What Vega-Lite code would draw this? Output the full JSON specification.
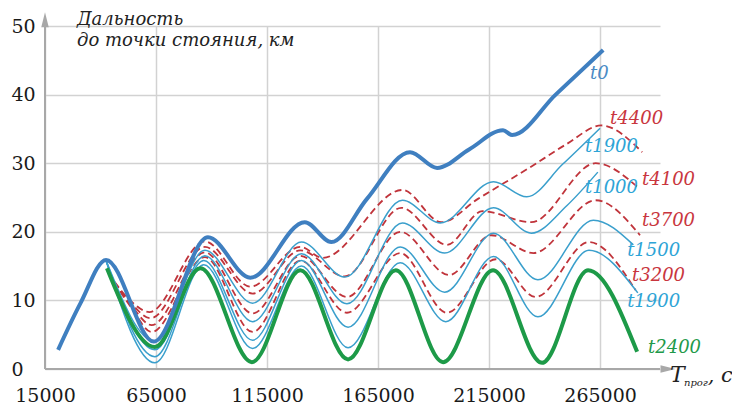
{
  "$schema": "https://vega.github.io/schema/vega-lite/v6.json",
  "width": 615,
  "height": 343,
  "autosize": {"type": "none"},
  "padding": {"left": 45, "top": 26, "right": 72, "bottom": 39},
  "background": "white",
  "config": {"view": {"stroke": null}, "font": "DejaVu Serif"},
  "datasets": {
    "t0": [
      {"x": 20900, "y": 2.8}, {"x": 31000, "y": 9.6}, {"x": 42500, "y": 15.9}, {"x": 64000, "y": 4.0},
      {"x": 88400, "y": 19.2}, {"x": 107500, "y": 13.3}, {"x": 132000, "y": 21.4}, {"x": 144000, "y": 18.5},
      {"x": 160000, "y": 24.8}, {"x": 179400, "y": 31.6}, {"x": 191600, "y": 29.3}, {"x": 206000, "y": 32.0},
      {"x": 221300, "y": 34.8}, {"x": 225400, "y": 34.1}, {"x": 245000, "y": 40.0}, {"x": 266400, "y": 46.5}
    ],
    "green": [
      {"x": 42900, "y": 14.7}, {"x": 64500, "y": 3.2}, {"x": 85000, "y": 14.7}, {"x": 108200, "y": 1.0},
      {"x": 130000, "y": 14.4}, {"x": 151500, "y": 1.4}, {"x": 173000, "y": 14.4}, {"x": 194300, "y": 1.0},
      {"x": 216800, "y": 14.4}, {"x": 238900, "y": 0.9}, {"x": 259600, "y": 14.4}, {"x": 281700, "y": 2.5}
    ],
    "blue": [
      {"s": "t1900u", "x": 42500, "y": 15.8}, {"s": "t1900u", "x": 64500, "y": 4.0}, {"s": "t1900u", "x": 87000, "y": 17.3},
      {"s": "t1900u", "x": 108500, "y": 9.6}, {"s": "t1900u", "x": 130500, "y": 18.5}, {"s": "t1900u", "x": 150000, "y": 13.4},
      {"s": "t1900u", "x": 176000, "y": 24.6}, {"s": "t1900u", "x": 193000, "y": 21.3}, {"s": "t1900u", "x": 217000, "y": 27.3},
      {"s": "t1900u", "x": 232000, "y": 25.1}, {"s": "t1900u", "x": 248000, "y": 29.8}, {"s": "t1900u", "x": 265000, "y": 35.1},
      {"s": "t1000", "x": 42500, "y": 15.8}, {"s": "t1000", "x": 64500, "y": 2.8}, {"s": "t1000", "x": 87000, "y": 16.5},
      {"s": "t1000", "x": 108500, "y": 6.9}, {"s": "t1000", "x": 130500, "y": 16.8}, {"s": "t1000", "x": 151000, "y": 9.5},
      {"s": "t1000", "x": 176000, "y": 21.3}, {"s": "t1000", "x": 195000, "y": 16.9}, {"s": "t1000", "x": 217000, "y": 23.5},
      {"s": "t1000", "x": 234000, "y": 19.8}, {"s": "t1000", "x": 250000, "y": 23.8}, {"s": "t1000", "x": 264000, "y": 28.7},
      {"s": "t1500", "x": 42500, "y": 15.8}, {"s": "t1500", "x": 64500, "y": 1.8}, {"s": "t1500", "x": 86500, "y": 15.8},
      {"s": "t1500", "x": 108500, "y": 4.2}, {"s": "t1500", "x": 130500, "y": 15.8}, {"s": "t1500", "x": 151500, "y": 6.1},
      {"s": "t1500", "x": 175000, "y": 17.8}, {"s": "t1500", "x": 195000, "y": 11.2}, {"s": "t1500", "x": 217000, "y": 19.8},
      {"s": "t1500", "x": 237000, "y": 13.0}, {"s": "t1500", "x": 262000, "y": 21.7}, {"s": "t1500", "x": 280000, "y": 18.1},
      {"s": "t1900l", "x": 42500, "y": 15.8}, {"s": "t1900l", "x": 64500, "y": 0.9}, {"s": "t1900l", "x": 86500, "y": 15.2},
      {"s": "t1900l", "x": 108500, "y": 3.0}, {"s": "t1900l", "x": 130500, "y": 15.0}, {"s": "t1900l", "x": 151500, "y": 3.1},
      {"s": "t1900l", "x": 175000, "y": 15.5}, {"s": "t1900l", "x": 195500, "y": 6.9}, {"s": "t1900l", "x": 217000, "y": 16.4},
      {"s": "t1900l", "x": 237000, "y": 7.6}, {"s": "t1900l", "x": 260000, "y": 17.3}, {"s": "t1900l", "x": 282000, "y": 11.1}
    ],
    "red": [
      {"s": "t4400", "x": 43500, "y": 14.0}, {"s": "t4400", "x": 54000, "y": 9.8}, {"s": "t4400", "x": 62000, "y": 8.3},
      {"s": "t4400", "x": 87000, "y": 18.6}, {"s": "t4400", "x": 107500, "y": 12.0}, {"s": "t4400", "x": 130000, "y": 17.8},
      {"s": "t4400", "x": 140000, "y": 16.2}, {"s": "t4400", "x": 176000, "y": 26.1}, {"s": "t4400", "x": 193500, "y": 21.4},
      {"s": "t4400", "x": 210000, "y": 24.8}, {"s": "t4400", "x": 233500, "y": 29.4}, {"s": "t4400", "x": 250000, "y": 32.8},
      {"s": "t4400", "x": 265500, "y": 35.5}, {"s": "t4400", "x": 284000, "y": 31.6},
      {"s": "t4100", "x": 43500, "y": 14.0}, {"s": "t4100", "x": 54000, "y": 9.5}, {"s": "t4100", "x": 62500, "y": 7.4},
      {"s": "t4100", "x": 87000, "y": 17.8}, {"s": "t4100", "x": 108500, "y": 11.0}, {"s": "t4100", "x": 130000, "y": 17.3},
      {"s": "t4100", "x": 150000, "y": 13.5}, {"s": "t4100", "x": 175500, "y": 23.5}, {"s": "t4100", "x": 196000, "y": 18.1},
      {"s": "t4100", "x": 212000, "y": 23.0}, {"s": "t4100", "x": 234000, "y": 21.4}, {"s": "t4100", "x": 263000, "y": 30.0},
      {"s": "t4100", "x": 282000, "y": 26.5},
      {"s": "t3700", "x": 43500, "y": 14.0}, {"s": "t3700", "x": 54000, "y": 9.2}, {"s": "t3700", "x": 63000, "y": 6.4},
      {"s": "t3700", "x": 87000, "y": 17.0}, {"s": "t3700", "x": 108500, "y": 8.1}, {"s": "t3700", "x": 130000, "y": 16.5},
      {"s": "t3700", "x": 151000, "y": 10.5}, {"s": "t3700", "x": 175000, "y": 20.0}, {"s": "t3700", "x": 197000, "y": 13.7},
      {"s": "t3700", "x": 216000, "y": 19.5}, {"s": "t3700", "x": 235000, "y": 16.9}, {"s": "t3700", "x": 263000, "y": 24.6},
      {"s": "t3700", "x": 283000, "y": 19.5},
      {"s": "t3200", "x": 43500, "y": 14.0}, {"s": "t3200", "x": 54000, "y": 8.9}, {"s": "t3200", "x": 63000, "y": 5.4},
      {"s": "t3200", "x": 87000, "y": 16.3}, {"s": "t3200", "x": 108500, "y": 5.4}, {"s": "t3200", "x": 130000, "y": 15.8},
      {"s": "t3200", "x": 151000, "y": 8.2}, {"s": "t3200", "x": 175000, "y": 16.9}, {"s": "t3200", "x": 196000, "y": 8.2},
      {"s": "t3200", "x": 218000, "y": 16.0}, {"s": "t3200", "x": 236000, "y": 10.5}, {"s": "t3200", "x": 260000, "y": 18.5},
      {"s": "t3200", "x": 281000, "y": 11.5}
    ],
    "labels": [
      {"label": "t0", "g": "t0", "x": 260500, "y": 43.0},
      {"label": "t4400", "g": "red", "x": 269500, "y": 36.4},
      {"label": "t1900", "g": "blue", "x": 258200, "y": 32.3},
      {"label": "t4100", "g": "red", "x": 283900, "y": 27.6},
      {"label": "t1000", "g": "blue", "x": 258200, "y": 26.4},
      {"label": "t3700", "g": "red", "x": 283900, "y": 21.6},
      {"label": "t1500", "g": "blue", "x": 277200, "y": 17.2},
      {"label": "t3200", "g": "red", "x": 279400, "y": 13.5},
      {"label": "t1900", "g": "blue", "x": 277200, "y": 9.8},
      {"label": "t2400", "g": "green", "x": 286600, "y": 3.1}
    ]
  },
  "layer": [
    {
      "data": {"name": "red"},
      "mark": {"type": "line", "interpolate": "monotone", "color": "#c0343b", "strokeWidth": 1.8, "strokeDash": [7, 4]},
      "encoding": {
        "x": {
          "field": "x", "type": "quantitative", "title": null,
          "scale": {"domain": [15000, 292000], "nice": false, "zero": false},
          "axis": {
            "values": [15000, 65000, 115000, 165000, 215000, 265000],
            "format": "d", "domain": false, "ticks": false, "tickSize": 0,
            "grid": true, "gridColor": "#d2d2d2", "gridWidth": 1.5,
            "labelFont": "DejaVu Serif", "labelFontSize": 19, "labelColor": "#1a1a1a",
            "labelPadding": 17, "labelFlush": false, "labelOverlap": false
          }
        },
        "y": {
          "field": "y", "type": "quantitative", "title": null,
          "scale": {"domain": [0, 50], "nice": false, "zero": false},
          "axis": {
            "values": [0, 10, 20, 30, 40, 50],
            "domain": false, "ticks": false, "tickSize": 0,
            "grid": true, "gridColor": "#d2d2d2", "gridWidth": 1.5,
            "labelFont": "DejaVu Serif", "labelFontSize": 19, "labelColor": "#1a1a1a",
            "labelAlign": "left", "labelPadding": 34, "labelFlush": false, "labelOverlap": false
          }
        },
        "detail": {"field": "s", "type": "nominal"}
      }
    },
    {
      "data": {"name": "blue"},
      "mark": {"type": "line", "interpolate": "monotone", "color": "#3a9fcc", "strokeWidth": 1.5},
      "encoding": {
        "x": {"field": "x", "type": "quantitative", "title": null},
        "y": {"field": "y", "type": "quantitative", "title": null},
        "detail": {"field": "s", "type": "nominal"}
      }
    },
    {
      "data": {"name": "green"},
      "mark": {"type": "line", "interpolate": "monotone", "color": "#1d9a48", "strokeWidth": 4},
      "encoding": {
        "x": {"field": "x", "type": "quantitative", "title": null},
        "y": {"field": "y", "type": "quantitative", "title": null}
      }
    },
    {
      "data": {"name": "t0"},
      "mark": {"type": "line", "interpolate": "monotone", "color": "#3f7fc0", "strokeWidth": 4},
      "encoding": {
        "x": {"field": "x", "type": "quantitative", "title": null},
        "y": {"field": "y", "type": "quantitative", "title": null}
      }
    },
    {
      "data": {"values": [{}]},
      "mark": {"type": "rule", "color": "#a8a8a8", "strokeWidth": 2},
      "encoding": {
        "x": {"datum": 15000, "type": "quantitative", "title": null},
        "y": {"datum": 0, "type": "quantitative", "title": null},
        "y2": {"datum": 50.5}
      }
    },
    {
      "data": {"values": [{}]},
      "mark": {"type": "rule", "color": "#a8a8a8", "strokeWidth": 2},
      "encoding": {
        "x": {"datum": 15000, "type": "quantitative", "title": null},
        "x2": {"datum": 292000},
        "y": {"datum": 0, "type": "quantitative", "title": null}
      }
    },
    {
      "data": {"values": [{}]},
      "mark": {"type": "point", "shape": "M-0.5,1L0,-1L0.5,1Z", "size": 225, "filled": true, "color": "#a8a8a8", "opacity": 1},
      "encoding": {
        "x": {"datum": 15000, "type": "quantitative", "title": null},
        "y": {"datum": 50.9, "type": "quantitative", "title": null}
      }
    },
    {
      "data": {"values": [{}]},
      "mark": {"type": "point", "shape": "M-1,-0.5L1,0L-1,0.5Z", "size": 225, "filled": true, "color": "#a8a8a8", "opacity": 1},
      "encoding": {
        "x": {"datum": 295600, "type": "quantitative", "title": null},
        "y": {"datum": 0, "type": "quantitative", "title": null}
      }
    },
    {
      "data": {"name": "labels"},
      "mark": {"type": "text", "align": "left", "baseline": "middle", "font": "DejaVu Serif", "fontStyle": "italic", "fontSize": 18},
      "encoding": {
        "x": {"field": "x", "type": "quantitative", "title": null},
        "y": {"field": "y", "type": "quantitative", "title": null},
        "text": {"field": "label"},
        "color": {
          "field": "g", "type": "nominal", "legend": null,
          "scale": {"domain": ["t0", "blue", "red", "green"], "range": ["#4a8bc5", "#2ea4d6", "#c9363e", "#1f9a4a"]}
        }
      }
    },
    {
      "data": {"values": [{}]},
      "mark": {"type": "text", "text": "Дальность", "align": "left", "baseline": "alphabetic", "font": "DejaVu Serif", "fontStyle": "italic", "fontSize": 18, "color": "#222222"},
      "encoding": {
        "x": {"datum": 29400, "type": "quantitative", "title": null},
        "y": {"datum": 50.2, "type": "quantitative", "title": null}
      }
    },
    {
      "data": {"values": [{}]},
      "mark": {"type": "text", "text": "до точки стояния, км", "align": "left", "baseline": "alphabetic", "font": "DejaVu Serif", "fontStyle": "italic", "fontSize": 18, "color": "#222222"},
      "encoding": {
        "x": {"datum": 29400, "type": "quantitative", "title": null},
        "y": {"datum": 47.1, "type": "quantitative", "title": null}
      }
    },
    {
      "data": {"values": [{}]},
      "mark": {"type": "text", "text": "T", "align": "left", "baseline": "alphabetic", "font": "DejaVu Serif", "fontStyle": "italic", "fontSize": 22, "color": "#222222"},
      "encoding": {
        "x": {"datum": 296500, "type": "quantitative", "title": null},
        "y": {"datum": -1.9, "type": "quantitative", "title": null}
      }
    },
    {
      "data": {"values": [{}]},
      "mark": {"type": "text", "text": "прог", "align": "left", "baseline": "alphabetic", "font": "DejaVu Serif", "fontStyle": "italic", "fontSize": 10, "color": "#222222"},
      "encoding": {
        "x": {"datum": 302800, "type": "quantitative", "title": null},
        "y": {"datum": -2.5, "type": "quantitative", "title": null}
      }
    },
    {
      "data": {"values": [{}]},
      "mark": {"type": "text", "text": ", с", "align": "left", "baseline": "alphabetic", "font": "DejaVu Serif", "fontStyle": "italic", "fontSize": 21, "color": "#222222"},
      "encoding": {
        "x": {"datum": 313500, "type": "quantitative", "title": null},
        "y": {"datum": -1.9, "type": "quantitative", "title": null}
      }
    }
  ]
}
